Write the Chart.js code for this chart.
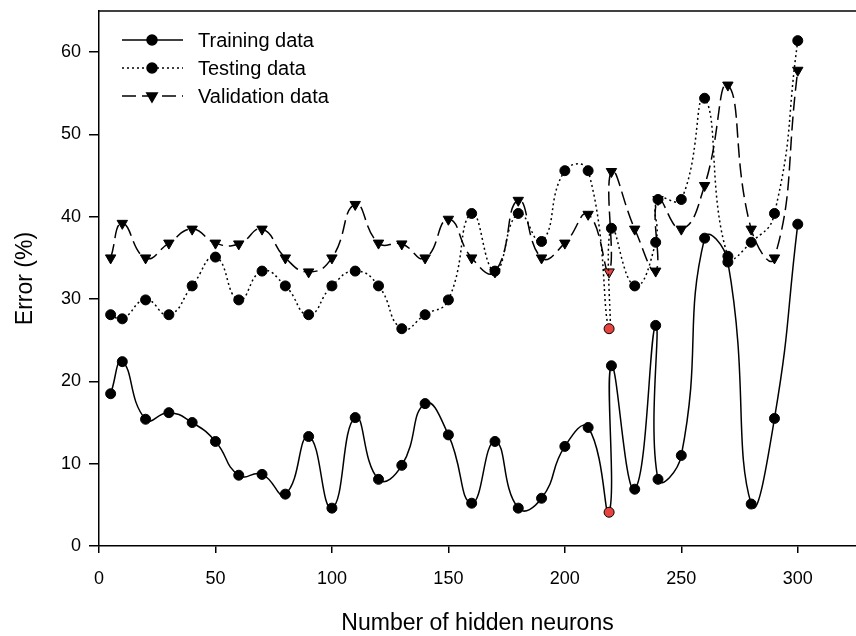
<!DOCTYPE html>
<html>
<head>
<meta charset="utf-8">
<script src="https://cdn.jsdelivr.net/npm/chart.js@4.4.0/dist/chart.umd.min.js"></script>
<style>
  html, body { margin: 0; padding: 0; background: #fff; }
  canvas { display: block; }
</style>
</head>
<body>
<canvas id="errChart" width="856" height="636"></canvas>
<script>
// values
const neurons = [5, 10, 20, 30, 40, 50, 60, 70, 80, 90, 100, 110, 120, 130, 140, 150, 160, 170, 180, 190,
                 200, 210, 219, 220, 230, 239, 240, 250, 260, 270, 280, 290, 300];
const trainingError = [18.5, 22.4, 15.4, 16.2, 15.0, 12.7, 8.6, 8.7, 6.3, 13.3, 4.6, 15.6, 8.1, 9.8, 17.3, 13.5, 5.2, 12.7, 4.6, 5.8,
                       12.1, 14.4, 4.1, 21.9, 6.9, 26.8, 8.1, 11.0, 37.4, 34.5, 5.1, 15.5, 39.1];
const testingError = [28.1, 27.6, 29.9, 28.1, 31.6, 35.1, 29.9, 33.4, 31.6, 28.1, 31.6, 33.4, 31.6, 26.4, 28.1, 29.9, 40.4, 33.4, 40.4, 37.0,
                      45.6, 45.6, 26.4, 38.6, 31.6, 36.9, 42.1, 42.1, 54.4, 35.2, 36.9, 40.4, 61.4];
const validationError = [35.0, 39.2, 35.0, 36.8, 38.5, 36.8, 36.7, 38.5, 35.0, 33.3, 35.0, 41.5, 36.8, 36.7, 35.0, 39.7, 35.0, 33.3, 42.0, 35.0,
                         36.8, 40.3, 33.3, 45.5, 38.5, 33.4, 42.1, 38.5, 43.8, 56.0, 38.5, 35.0, 57.8];
const xTicks = [0, 50, 100, 150, 200, 250, 300];
const yTicks = [0, 10, 20, 30, 40, 50, 60];
const highlightNeurons = 219;   // the red markers

const FONT = '"Liberation Sans", Arial, sans-serif';
const RED = '#e8443f';

function toPoints(values) {
    return neurons.map((x, i) => ({ x: x, y: values[i] }));
}
function markerFill() {
    return neurons.map(x => x === highlightNeurons ? RED : '#000');
}

// legend drawn inside the plot, top left, like the original figure
const insideLegend = {
    id: 'insideLegend',
    afterDraw(chart) {
        const ctx = chart.ctx;
        const area = chart.chartArea;
        ctx.save();
        // top frame line
        ctx.strokeStyle = '#000';
        ctx.lineWidth = 1.5;
        ctx.beginPath();
        ctx.moveTo(area.left, area.top);
        ctx.lineTo(area.right, area.top);
        ctx.stroke();

        chart.data.datasets.forEach((ds, i) => {
            const y = area.top + 29 + i * 28;
            const x0 = area.left + 23;
            ctx.strokeStyle = '#000';
            ctx.lineWidth = ds.borderWidth;
            ctx.setLineDash(ds.borderDash || []);
            ctx.beginPath();
            ctx.moveTo(x0, y);
            ctx.lineTo(x0 + 61, y);
            ctx.stroke();
            ctx.setLineDash([]);
            ctx.fillStyle = '#000';
            Chart.helpers.drawPoint(ctx, {
                pointStyle: ds.pointStyle,
                rotation: ds.pointRotation || 0,
                radius: ds.pointRadius,
                borderWidth: 1
            }, x0 + 30, y);
            ctx.font = '20px ' + FONT;
            ctx.textBaseline = 'middle';
            ctx.textAlign = 'left';
            ctx.fillText(ds.label, x0 + 76, y + 1);
        });
        ctx.restore();
    }
};

const ctx = document.getElementById('errChart').getContext('2d');
new Chart(ctx, {
    type: 'line',
    data: {
        datasets: [
            {
                label: 'Training data',
                data: toPoints(trainingError),
                borderColor: '#000',
                borderWidth: 1.5,
                tension: 0.5,
                pointStyle: 'circle',
                pointRadius: 5,
                pointBackgroundColor: markerFill(),
                pointBorderColor: '#000',
                pointBorderWidth: 1
            },
            {
                label: 'Testing data',
                data: toPoints(testingError),
                borderColor: '#000',
                borderWidth: 1.5,
                borderDash: [2, 3],
                tension: 0.5,
                pointStyle: 'circle',
                pointRadius: 5,
                pointBackgroundColor: markerFill(),
                pointBorderColor: '#000',
                pointBorderWidth: 1
            },
            {
                label: 'Validation data',
                data: toPoints(validationError),
                borderColor: '#000',
                borderWidth: 1.5,
                borderDash: [14, 6],
                tension: 0.5,
                pointStyle: 'triangle',
                pointRotation: 180,
                pointRadius: 6,
                pointBackgroundColor: markerFill(),
                pointBorderColor: '#000',
                pointBorderWidth: 1
            }
        ]
    },
    options: {
        responsive: false,
        animation: false,
        layout: { autoPadding: false, padding: { top: 11, left: 0, right: 0, bottom: 0 } },
        plugins: {
            legend: { display: false },
            tooltip: { enabled: false }
        },
        scales: {
            x: {
                type: 'linear',
                min: 0,
                max: 325,
                afterBuildTicks: s => { s.ticks = xTicks.map(v => ({ value: v })); },
                afterFit: s => { s.height = 90; s.paddingLeft = 0; s.paddingRight = 0; },
                border: { color: '#000', width: 1.5 },
                grid: { drawOnChartArea: false, tickLength: 7, color: '#000', lineWidth: 1.5 },
                ticks: { color: '#000', padding: 15, maxRotation: 0, font: { family: FONT, size: 18 } },
                title: {
                    display: true,
                    text: 'Number of hidden neurons',
                    color: '#000',
                    font: { family: FONT, size: 23, lineHeight: 1 },
                    padding: { top: 0, bottom: 1 }
                }
            },
            y: {
                min: 0,
                max: 65,
                afterBuildTicks: s => { s.ticks = yTicks.map(v => ({ value: v })); },
                afterFit: s => { s.width = 99; s.paddingTop = 0; s.paddingBottom = 0; },
                border: { color: '#000', width: 1.5 },
                grid: { drawOnChartArea: false, tickLength: 10, color: '#000', lineWidth: 1.5 },
                ticks: { color: '#000', padding: 8, font: { family: FONT, size: 18 } },
                title: {
                    display: true,
                    text: 'Error (%)',
                    color: '#000',
                    font: { family: FONT, size: 23, lineHeight: 1 },
                    padding: { top: 14, bottom: 0 }
                }
            }
        }
    },
    plugins: [insideLegend]
});
</script>
</body>
</html>
